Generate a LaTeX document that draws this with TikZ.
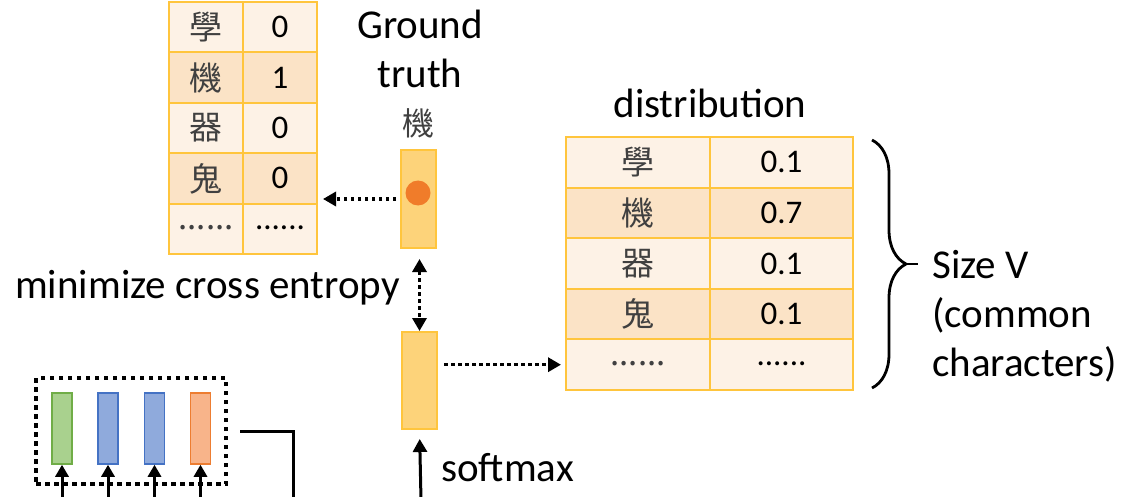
\documentclass[tikz,border=0pt]{standalone}
\usepackage{fontspec}
\setmainfont{Carlito}
\newfontfamily\cjk{Noto Sans CJK TC}
\usetikzlibrary{arrows.meta,decorations.pathreplacing}

\definecolor{tblline}{HTML}{FFC53D}
\definecolor{rowlight}{HTML}{FDF2E6}
\definecolor{rowdark}{HTML}{FBE3C6}
\definecolor{barfill}{HTML}{FDD37A}
\definecolor{dotorange}{HTML}{F07C2A}
\definecolor{cjkgray}{HTML}{404040}
\definecolor{embgreen}{HTML}{A9D18E}
\definecolor{embgreenline}{HTML}{70AD47}
\definecolor{embblue}{HTML}{8FAADC}
\definecolor{embblueline}{HTML}{4472C4}
\definecolor{emborange}{HTML}{F8B48A}
\definecolor{emborangeline}{HTML}{ED7D31}

\newcommand{\sixdots}{\raisebox{2pt}{......}}

\tikzset{
  cell/.style={draw=tblline, line width=2pt, inner sep=0pt, minimum height=50.5pt,
    font=\fontsize{33}{38}\selectfont},
  bigtext/.style={font=\fontsize{41}{49}\selectfont, inner sep=0pt},
  vecbar/.style={draw=tblline, fill=barfill, line width=2pt, inner sep=0pt,
    minimum width=35pt, minimum height=98pt},
  embbar/.style={line width=1.5pt, inner sep=0pt, minimum width=20pt, minimum height=71pt},
  dotarrow/.style={line width=3.5pt, dash pattern=on 3.5pt off 3.5pt},
  tip/.style={-{Triangle[length=13pt,width=14pt]}},
}

\begin{document}
\begin{tikzpicture}[x=1pt, y=-1pt]
\useasboundingbox (0,0) rectangle (1129,497);

% Ground truth table (left)
\foreach \c/\v/\f [count=\i] in {學/0/rowlight, 機/1/rowdark, 器/0/rowlight, 鬼/0/rowdark, \sixdots/\sixdots/rowlight} {
  \node[cell, fill=\f, minimum width=74pt] (LT\i1) at (206, {2+25.2+50.4*(\i-1)}) {\cjk\color{cjkgray}\c};
  \node[cell, fill=\f, minimum width=74pt] (LT\i2) at (280, {2+25.2+50.4*(\i-1)}) {\v};
}

% Distribution table (right)
\foreach \c/\v/\f [count=\i] in {學/0.1/rowlight, 機/0.7/rowdark, 器/0.1/rowlight, 鬼/0.1/rowdark, \sixdots/\sixdots/rowlight} {
  \node[cell, fill=\f, minimum width=144pt] (RT\i1) at (638, {137+25.3+50.6*(\i-1)}) {\cjk\color{cjkgray}\c};
  \node[cell, fill=\f, minimum width=143pt] (RT\i2) at (781.5, {137+25.3+50.6*(\i-1)}) {\v};
}

% Labels
\node[bigtext, align=center] (GTL) at (420,49) {Ground\\truth};
\node[font=\fontsize{32}{36}\selectfont\cjk, text=cjkgray] (GTC) at (418,123) {機};
\node[bigtext] (DIST) at (710,103) {distribution};
\node[bigtext, anchor=west] (MCE) at (15,288) {minimize cross entropy};
\node[bigtext, align=left, anchor=west] (SIZE) at (932,316) {Size V\\(common\\characters)};
\node[bigtext, anchor=west] (SMX) at (441,468) {softmax};

% Vectors
\node[vecbar] (GT) at (418.5,199) {};
\fill[dotorange] (418,193) circle (12.5pt);
\node[vecbar, minimum height=97pt] (OUT) at (419.5,380.5) {};

% Encoder box
\node[draw, line width=4.5pt, dash pattern=on 4.5pt off 4.5pt, minimum width=190pt, minimum height=106pt] (ENC) at (131,431) {};
\node[embbar, draw=embgreenline, fill=embgreen] (E1) at (62,428.5) {};
\node[embbar, draw=embblueline, fill=embblue] (E2) at (108,428.5) {};
\node[embbar, draw=embblueline, fill=embblue] (E3) at (154.5,428.5) {};
\node[embbar, draw=emborangeline, fill=emborange] (E4) at (200.5,428.5) {};

% Free ends at the bottom edge
\coordinate (IN1) at (62,500);
\coordinate (IN2) at (108,500);
\coordinate (IN3) at (154.5,500);
\coordinate (IN4) at (200.5,500);
\coordinate (SMIN) at (421,500);
\coordinate (ENCOUT) at (293,500);

% Brace
\coordinate (BRT) at (872,140);
\coordinate (BRB) at (872,388);
\coordinate (BRTIP) at (906,264);
\draw[line width=2.8pt, decorate, decoration={brace, amplitude=34pt}] (BRT) -- (BRB);
\draw[line width=2.8pt, shorten >=14pt] (BRTIP) -- (BRTIP -| SIZE.west);

% Dotted arrows
\draw[dotarrow, tip, shorten <=4pt, shorten >=5pt] (GT.west) -- (GT.west -| LT42.east);
\draw[dotarrow, {Triangle[length=13pt,width=14pt]}-{Triangle[length=13pt,width=14pt]}, shorten <=10pt] (GT.south -| OUT.north) -- (OUT.north);
\draw[dotarrow, tip, shorten <=6pt, shorten >=4pt] (OUT.east |- RT51) -- (RT51.west);

% Solid arrows
\draw[line width=3pt, -{Triangle[length=13pt,width=14pt]}, shorten >=9pt] (SMIN) -- (OUT.south);
\foreach \k in {1,...,4}
  \draw[line width=3pt, -{Triangle[length=12pt,width=13pt]}] (IN\k) -- (E\k.south);
\draw[line width=3pt] ([xshift=12pt]ENC.east) -| (ENCOUT);

\end{tikzpicture}
\end{document}
